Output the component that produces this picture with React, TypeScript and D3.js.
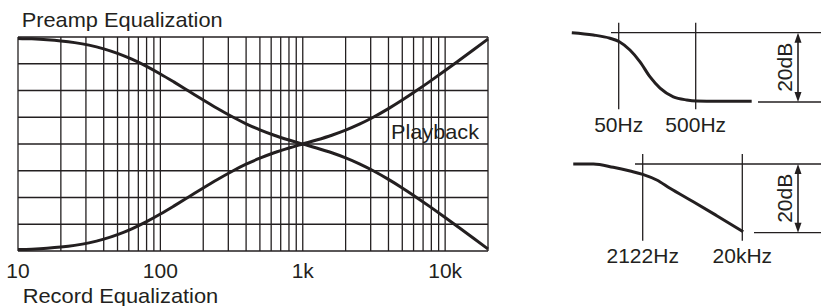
import React from "react";
import * as d3 from "d3";

// Main chart: RIAA equalization (dB relative to 1 kHz)
const freqs = [10, 12.5, 16, 20, 25, 31.5, 40, 50, 63, 80, 100, 125, 160, 200, 250, 315, 400, 500, 630, 800, 1000, 1250, 1600, 2000, 2500, 3150, 4000, 5000, 6300, 8000, 10000, 12500, 16000, 20000];
const playbackDb = [19.74, 19.65, 19.49, 19.27, 18.95, 18.48, 17.79, 16.94, 15.85, 14.51, 13.09, 11.56, 9.81, 8.22, 6.68, 5.18, 3.78, 2.65, 1.64, 0.75, 0, -0.74, -1.64, -2.59, -3.7, -5.04, -6.61, -8.21, -9.98, -11.89, -13.73, -15.61, -17.71, -19.62];
const recordDb = [-19.74, -19.65, -19.49, -19.27, -18.95, -18.48, -17.79, -16.94, -15.85, -14.51, -13.09, -11.56, -9.81, -8.22, -6.68, -5.18, -3.78, -2.65, -1.64, -0.75, 0, 0.74, 1.64, 2.59, 3.7, 5.04, 6.61, 8.21, 9.98, 11.89, 13.73, 15.61, 17.71, 19.62];
const gridFreqs = [10, 20, 30, 40, 50, 60, 70, 80, 90, 100, 200, 300, 400, 500, 600, 700, 800, 900, 1000, 2000, 3000, 4000, 5000, 6000, 7000, 8000, 9000, 10000, 20000];
const gridDb = [-20, -15, -10, -5, 0, 5, 10, 15, 20];
const tickFreqs = [10, 100, 1000, 10000];
const tickLabels = ["10", "100", "1k", "10k"];

// Right panel 1: low-frequency shelf (50 Hz / 500 Hz)
const shelfFreq = [12.3, 23.4, 38.5, 51, 70, 94.6, 127, 172, 256, 382, 515, 937, 2667];
const shelfDb = [0, -0.66, -1.6, -2.6, -5.0, -8.4, -12.7, -16.0, -18.5, -19.4, -19.7, -19.8, -19.8];
const shelfMarks = [50, 500];
const shelfLabels = ["50Hz", "500Hz"];

// Right panel 2: high-frequency roll-off (2122 Hz / 20 kHz)
const rollFreq = [444, 700, 1093, 1597, 2122, 2912, 3922, 6631, 11253, 20400];
const rollDb = [0, 0, -0.96, -2.04, -3.0, -4.66, -7.07, -10.98, -15.05, -19.7];
const rollMarks = [2122, 20000];
const rollLabels = ["2122Hz", "20kHz"];

const INK = "#231f20";
const FONT = "'Liberation Sans', Arial, Helvetica, sans-serif";

function Arrow({ x, y1, y2 }: { x: number; y1: number; y2: number }) {
  const hw = 3.5, hl = 10;
  return (
    <g>
      <line x1={x} x2={x} y1={y1 + hl - 1} y2={y2 - hl + 1} stroke={INK} strokeWidth={1.6} />
      <path d={`M${x},${y1} L${x - hw},${y1 + hl} L${x + hw},${y1 + hl} Z`} fill={INK} />
      <path d={`M${x},${y2} L${x - hw},${y2 - hl} L${x + hw},${y2 - hl} Z`} fill={INK} />
    </g>
  );
}

export default function App() {
  const x = d3.scaleLog().domain([10, 20000]).range([18, 488]);
  const y = d3.scaleLinear().domain([-20, 20]).range([251, 37]);
  const line = d3
    .line<[number, number]>()
    .x((d) => x(d[0]))
    .y((d) => y(d[1]))
    .curve(d3.curveMonotoneX);
  const playPath = line(freqs.map((f, i) => [f, playbackDb[i]] as [number, number])) || "";
  const recPath = line(freqs.map((f, i) => [f, recordDb[i]] as [number, number])) || "";

  const x1 = d3.scaleLog().domain([50, 500]).range([618.7, 695.7]);
  const y1 = d3.scaleLinear().domain([0, -20]).range([32.7, 102]);
  const l1 = d3
    .line<[number, number]>()
    .x((d) => x1(d[0]))
    .y((d) => y1(d[1]))
    .curve(d3.curveMonotoneX);
  const shelfPath = l1(shelfFreq.map((f, i) => [f, shelfDb[i]] as [number, number])) || "";

  const x2 = d3.scaleLog().domain([2122, 20000]).range([642.7, 742.3]);
  const y2 = d3.scaleLinear().domain([0, -20]).range([164, 232.7]);
  const l2 = d3
    .line<[number, number]>()
    .x((d) => x2(d[0]))
    .y((d) => y2(d[1]))
    .curve(d3.curveMonotoneX);
  const rollPath = l2(rollFreq.map((f, i) => [f, rollDb[i]] as [number, number])) || "";

  return (
    <svg
      width={821}
      height={306}
      viewBox="0 0 821 306"
      style={{ position: "absolute", left: 0, top: 0, background: "#fff" }}
      fontFamily={FONT}
    >
      <rect x={0} y={0} width={821} height={306} fill="#fff" />
      {/* main grid */}
      <g stroke={INK} strokeWidth={1.3}>
        {gridFreqs.map((f) => (
          <line key={"v" + f} x1={x(f)} x2={x(f)} y1={y(20)} y2={y(-20)} />
        ))}
        {gridDb.map((d) => (
          <line key={"h" + d} x1={x(10)} x2={x(20000)} y1={y(d)} y2={y(d)} />
        ))}
      </g>
      <path d={playPath} fill="none" stroke={INK} strokeWidth={3} />
      <path d={recPath} fill="none" stroke={INK} strokeWidth={3} />
      <g fill={INK} fontSize={21}>
        <text x={21.7} y={27} textLength={201} lengthAdjust="spacingAndGlyphs">Preamp Equalization</text>
        <text x={22.7} y={303} textLength={195.6} lengthAdjust="spacingAndGlyphs">Record Equalization</text>
        <rect x={390} y={121} width={90} height={21} fill="none" />
        <text x={391} y={139} textLength={88} lengthAdjust="spacingAndGlyphs">Playback</text>
        {tickFreqs.map((f, i) => (
          <text key={"t" + f} x={x(f) + (i === 0 ? 0 : 0)} y={278} textAnchor="middle">
            {tickLabels[i]}
          </text>
        ))}
      </g>

      {/* right panel 1 */}
      <g stroke={INK} strokeWidth={1.3}>
        {shelfMarks.map((f) => (
          <line key={"s" + f} x1={x1(f)} x2={x1(f)} y1={22.7} y2={109.3} />
        ))}
        <line x1={611} x2={821} y1={y1(0)} y2={y1(0)} />
        <line x1={758} x2={821} y1={y1(-20)} y2={y1(-20)} />
      </g>
      <path d={shelfPath} fill="none" stroke={INK} strokeWidth={3} />
      <Arrow x={798} y1={y1(0)} y2={y1(-20)} />
      <g fill={INK} fontSize={21}>
        {shelfMarks.map((f, i) => (
          <text key={"sl" + f} x={x1(f)} y={132.3} textAnchor="middle">
            {shelfLabels[i]}
          </text>
        ))}
        <text transform={`translate(791.5,${(y1(0) + y1(-20)) / 2}) rotate(-90)`} textAnchor="middle">20dB</text>
      </g>

      {/* right panel 2 */}
      <g stroke={INK} strokeWidth={1.3}>
        {rollMarks.map((f) => (
          <line key={"r" + f} x1={x2(f)} x2={x2(f)} y1={154} y2={240.7} />
        ))}
        <line x1={635} x2={821} y1={y2(0)} y2={y2(0)} />
        <line x1={754} x2={821} y1={y2(-20)} y2={y2(-20)} />
      </g>
      <path d={rollPath} fill="none" stroke={INK} strokeWidth={3} />
      <Arrow x={798} y1={y2(0)} y2={y2(-20)} />
      <g fill={INK} fontSize={21}>
        {rollMarks.map((f, i) => (
          <text key={"rl" + f} x={x2(f)} y={263.3} textAnchor="middle">
            {rollLabels[i]}
          </text>
        ))}
        <text transform={`translate(791.5,${(y2(0) + y2(-20)) / 2}) rotate(-90)`} textAnchor="middle">20dB</text>
      </g>
    </svg>
  );
}
